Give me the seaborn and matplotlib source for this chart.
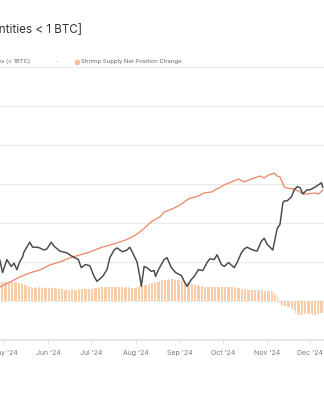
import matplotlib
matplotlib.use("Agg")
import matplotlib.pyplot as plt
import matplotlib.dates as mdates
from matplotlib.lines import Line2D
import numpy as np
import pandas as pd
import seaborn as sns

# ---------------- data ----------------
price_dates = ["2024-04-28", "2024-04-30", "2024-05-03", "2024-05-06", "2024-05-08", "2024-05-10", "2024-05-12",
               "2024-05-14", "2024-05-15", "2024-05-19", "2024-05-21", "2024-05-24", "2024-05-26",
               "2024-05-29", "2024-05-31", "2024-06-03", "2024-06-05", "2024-06-09", "2024-06-14",
               "2024-06-17", "2024-06-22", "2024-06-24", "2024-06-27", "2024-06-30", "2024-07-03",
               "2024-07-05", "2024-07-09", "2024-07-12", "2024-07-14", "2024-07-17", "2024-07-19",
               "2024-07-23", "2024-07-26", "2024-07-28", "2024-07-30", "2024-08-02", "2024-08-04",
               "2024-08-05", "2024-08-07", "2024-08-09", "2024-08-12", "2024-08-14", "2024-08-15",
               "2024-08-17", "2024-08-21", "2024-08-23", "2024-08-26", "2024-08-29", "2024-09-02",
               "2024-09-04", "2024-09-06", "2024-09-09", "2024-09-11", "2024-09-14", "2024-09-17",
               "2024-09-20", "2024-09-22", "2024-09-25", "2024-09-27", "2024-09-30", "2024-10-02",
               "2024-10-05", "2024-10-09", "2024-10-11", "2024-10-14", "2024-10-16", "2024-10-18",
               "2024-10-22", "2024-10-25", "2024-10-28", "2024-10-30", "2024-11-01", "2024-11-05",
               "2024-11-08", "2024-11-10", "2024-11-12", "2024-11-13", "2024-11-15", "2024-11-18",
               "2024-11-20", "2024-11-22", "2024-11-24", "2024-11-26", "2024-11-29", "2024-12-01",
               "2024-12-05", "2024-12-07", "2024-12-09", "2024-12-10"]
price_usd = [63600, 59000, 63600, 61100, 62300, 60000, 62800,
             64600, 66500, 70300, 68300, 68300, 68000,
             67200, 67600, 70300, 68700, 66800, 66100,
             65000, 63600, 60700, 61800, 61400, 57700,
             56100, 57700, 60000, 64300, 67200, 68000,
             66500, 67200, 68300, 66100, 62800, 57700,
             54500, 61100, 60700, 59400, 59700, 57700,
             60000, 63600, 64300, 60700, 59000, 58000,
             56100, 54500, 56700, 57700, 60000, 59700,
             62500, 63900, 63600, 65400, 61800, 61100,
             62500, 60700, 62500, 66100, 67600, 68300,
             67200, 66800, 70700, 71900, 69500, 67200,
             75900, 77900, 88100, 89200, 89200, 91300,
             95100, 96800, 96300, 92900, 95100, 95100,
             96800, 97900, 99000, 96300]

supply_dates = ["2024-04-28", "2024-05-05", "2024-05-12", "2024-05-19", "2024-05-26", "2024-06-02",
                "2024-06-09", "2024-06-16", "2024-06-23", "2024-06-30", "2024-07-07", "2024-07-14",
                "2024-07-21", "2024-07-25", "2024-07-28", "2024-08-01", "2024-08-04", "2024-08-08",
                "2024-08-11", "2024-08-14", "2024-08-18", "2024-08-21", "2024-08-25", "2024-08-28",
                "2024-09-01", "2024-09-04", "2024-09-08", "2024-09-12", "2024-09-18", "2024-09-23",
                "2024-09-28", "2024-10-02", "2024-10-07", "2024-10-12", "2024-10-16", "2024-10-19",
                "2024-10-23", "2024-10-27", "2024-10-30", "2024-11-02", "2024-11-06", "2024-11-08",
                "2024-11-10", "2024-11-13", "2024-11-15", "2024-11-20", "2024-11-24", "2024-11-26",
                "2024-11-29", "2024-12-04", "2024-12-07", "2024-12-10"]
supply_kbtc = [1267.2, 1269.7, 1272.3, 1274.4, 1275.9, 1278.5,
               1280.0, 1282.1, 1283.6, 1285.1, 1287.2, 1288.7,
               1290.3, 1291.3, 1292.3, 1293.8, 1295.4, 1297.9,
               1300.0, 1301.5, 1303.1, 1305.6, 1306.7, 1307.7,
               1309.2, 1310.8, 1312.8, 1313.3, 1315.4, 1315.9,
               1317.9, 1319.5, 1321.0, 1322.6, 1321.0, 1322.0,
               1323.1, 1324.1, 1323.1, 1324.6, 1325.6, 1324.1,
               1323.6, 1318.5, 1317.9, 1317.4, 1315.9, 1314.9,
               1314.9, 1315.4, 1314.9, 1316.9]

net_change_start = "2024-04-28"
net_apr = [9.6, 9.7, 9.5]
net_may = [9.6, 9.8, 9.5, 9.3, 9.6, 9.7, 9.5, 9.4, 9.6, 9.5,
           9.3, 9.2, 9.0, 8.8, 8.5, 8.1, 7.8, 7.5, 7.2, 7.0,
           6.9, 6.9, 7.0, 6.8, 6.9, 7.0, 6.9, 7.1, 6.9, 6.8, 6.9]
net_jun = [6.8, 6.9, 7.0, 6.8, 6.7, 6.6, 6.4, 6.2, 6.0, 6.0,
           5.9, 5.8, 5.8, 5.9, 5.8, 5.7, 5.8, 5.9, 5.8, 5.8,
           5.7, 5.8, 5.9, 5.9, 6.0, 6.0, 6.1, 6.0, 6.1, 6.2]
net_jul = [6.3, 6.4, 6.5, 6.7, 6.8, 6.9, 7.0, 7.0, 7.1, 7.0,
           7.1, 7.2, 7.1, 7.0, 7.1, 7.2, 7.1, 7.1, 7.0, 7.1,
           7.2, 7.1, 7.0, 6.9, 7.0, 7.1, 7.0, 6.9, 6.9, 6.8, 6.8]
net_aug = [6.9, 7.0, 7.2, 7.5, 7.8, 8.0, 8.1, 8.2, 8.4, 8.6,
           8.8, 9.0, 9.2, 9.4, 9.6, 9.8, 10.0, 10.2, 10.5, 10.7,
           10.8, 10.9, 11.0, 11.1, 11.0, 11.1, 11.2, 11.1, 11.0, 11.0, 10.9]
net_sep = [10.8, 10.6, 10.3, 9.9, 9.6, 9.5, 9.4, 9.3, 9.1, 8.9,
           8.6, 8.4, 8.2, 8.0, 7.8, 7.6, 7.5, 7.4, 7.3, 7.3,
           7.2, 7.3, 7.2, 7.1, 7.2, 7.1, 7.2, 7.1, 7.0, 7.1]
net_oct = [7.1, 7.0, 7.1, 7.2, 7.1, 7.0, 7.1, 7.0, 6.9, 7.0,
           6.9, 6.8, 6.6, 6.4, 6.2, 6.0, 5.9, 5.8, 5.7, 5.7,
           5.8, 5.7, 5.6, 5.7, 5.6, 5.5, 5.6, 5.5, 5.4, 5.3, 5.3]
net_nov = [5.3, 5.2, 5.1, 5.0, 4.6, 4.0, 3.2, 2.0, 0.4, -1.0,
           -2.0, -2.4, -2.6, -2.8, -3.0, -3.1, -3.2, -3.4, -3.9, -4.8,
           -6.0, -6.6, -7.0, -7.2, -7.3, -7.1, -6.8, -6.5, -6.4, -6.5]
net_dec = [-6.6, -6.8, -7.0, -7.1, -7.0, -6.8, -6.6, -6.3, -6.1, -6.0]

month_ticks = ["2024-05-01", "2024-06-01", "2024-07-01", "2024-08-01",
               "2024-09-01", "2024-10-01", "2024-11-01", "2024-12-01"]

title_text = "Bitcoin: Shrimp Supply Net Position Change [Entities < 1 BTC]"
legend_a = "Shrimp Supply: Entities (< 1BTC)"
legend_b = "Shrimp Supply Net Position Change"

# ---------------- frames ----------------
df_price = pd.DataFrame({"date": pd.to_datetime(price_dates), "price": price_usd})
df_supply = pd.DataFrame({"date": pd.to_datetime(supply_dates), "supply": supply_kbtc})
net_vals = net_apr + net_may + net_jun + net_jul + net_aug + net_sep + net_oct + net_nov + net_dec
df_net = pd.DataFrame({"date": pd.date_range(net_change_start, periods=len(net_vals), freq="D"),
                       "net": net_vals})

# ---------------- style ----------------
sns.set_theme(style="white")
plt.rcParams["font.family"] = ["Inter", "DejaVu Sans"]

W, H = 324, 400
fig = plt.figure(figsize=(W / 100, H / 100), dpi=100)
fig.patch.set_facecolor("white")

top_px, bot_px = 67, 340
ax = fig.add_axes([0, 1 - bot_px / H, 1, (bot_px - top_px) / H])
ax.set_facecolor("white")

x0 = pd.Timestamp("2024-04-28 04:48")
x1 = pd.Timestamp("2024-12-10 19:00")

# bars on primary axis (carries the grid)
ax.bar(df_net["date"], df_net["net"], width=0.7, color="#F8CDAA", linewidth=0, zorder=2)
ax.set_ylim(-20, 120)
ax.set_yticks(np.arange(-20, 121, 20))
ax.yaxis.grid(True, color="#eaeaea", linewidth=0.8, zorder=0)
ax.xaxis.grid(False)
ax.set_axisbelow(True)
ax.tick_params(axis="y", left=False, labelleft=False)
for s in ["left", "right", "top"]:
    ax.spines[s].set_visible(False)
ax.spines["bottom"].set_color("#e2e2e2")
ax.spines["bottom"].set_linewidth(1.3)

ax.set_xlim(x0, x1)
ax.set_xticks(pd.to_datetime(month_ticks))
ax.xaxis.set_major_formatter(mdates.DateFormatter("%b '%y"))
ax.tick_params(axis="x", bottom=True, length=3, width=0.8, color="#e2e2e2",
               labelsize=5, labelcolor="#7a7a7a", pad=4.5)
ax.set_xlabel("")
ax.set_ylabel("")

# supply line
ax2 = ax.twinx()
sns.lineplot(data=df_supply, x="date", y="supply", ax=ax2, color="#EE8A6A", linewidth=0.95)
ax2.set_ylim(1240, 1380)
ax2.set_xlim(x0, x1)

# price line (log)
ax3 = ax.twinx()
sns.lineplot(data=df_price, x="date", y="price", ax=ax3, color="#484848", linewidth=1.05)
ax3.set_yscale("log")
ax3.set_ylim(40000, 193000)
ax3.set_xlim(x0, x1)

for a in (ax2, ax3):
    a.set_ylabel("")
    a.set_xlabel("")
    a.grid(False)
    a.tick_params(axis="y", right=False, left=False, labelright=False, labelleft=False,
                  which="both")
    a.tick_params(axis="x", bottom=False, labelbottom=False)
    for s in a.spines.values():
        s.set_visible(False)

# title & legend
fig.text(82 / W, 1 - 30 / H, title_text, ha="right", va="center",
         fontsize=8.4, color="#333333", fontweight="normal")
fig.text(30 / W, 1 - 62 / H, legend_a, ha="right", va="center", fontsize=4.3, color="#666666")
fig.text(57 / W, 1 - 62 / H, "-", ha="center", va="center", fontsize=4.3, color="#999999")
fig.add_artist(Line2D([77 / W], [1 - 61.5 / H], marker="o", markersize=3,
                      color="#F6BE98", linestyle="none", transform=fig.transFigure))
fig.text(81 / W, 1 - 62 / H, legend_b, ha="left", va="center", fontsize=4.3, color="#666666")

fig.savefig("out.png", dpi=100, facecolor="white")
